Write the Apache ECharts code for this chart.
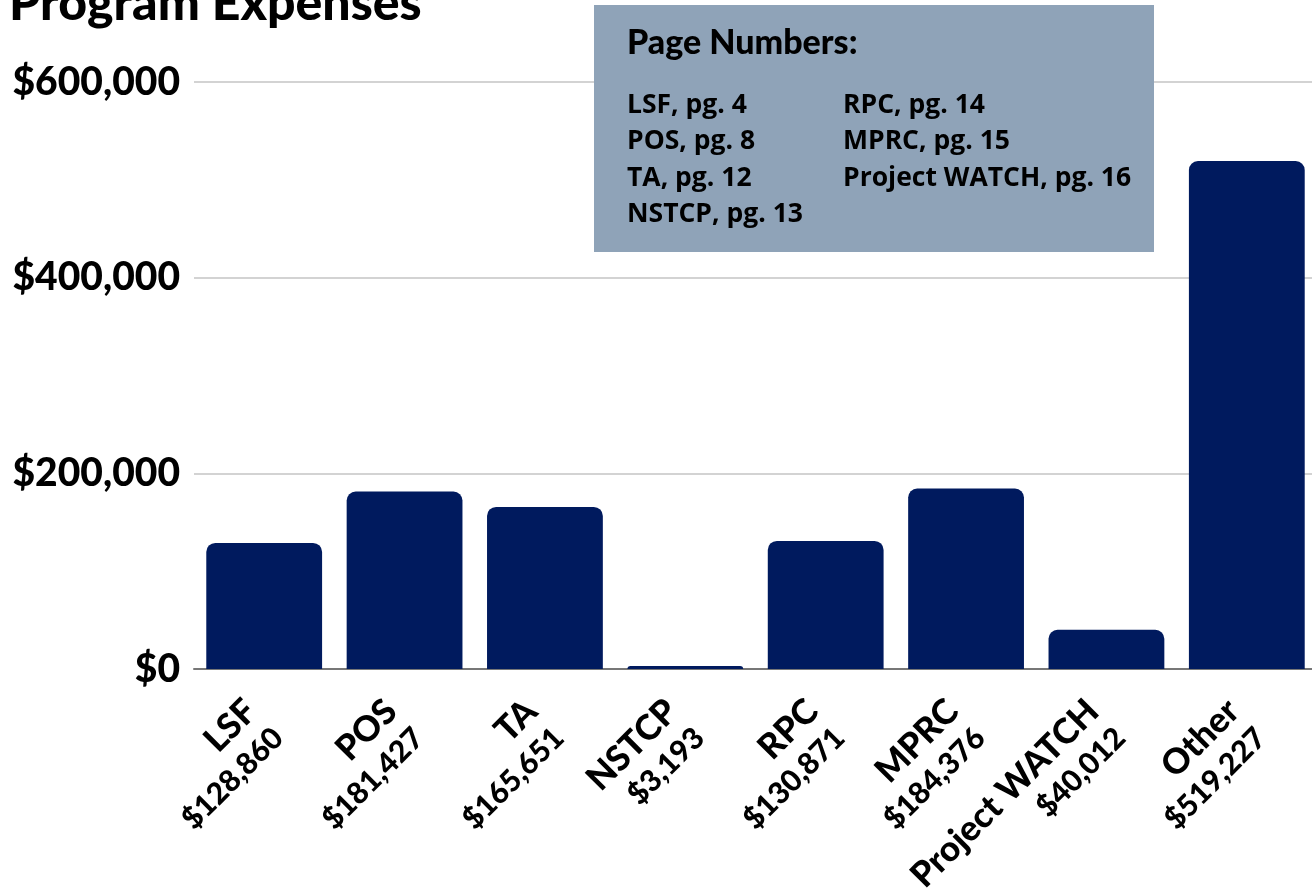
<!DOCTYPE html>
<html>
<head>
<meta charset="utf-8">
<title>Program Expenses</title>
<script src="https://cdn.jsdelivr.net/npm/echarts@6/dist/echarts.min.js"></script>
<style>
  html, body { margin: 0; padding: 0; background: #ffffff; }
  #main { width: 1312px; height: 894px; }
</style>
</head>
<body>
<div id="main"></div>
<script>
// chart data
var programs = ['LSF', 'POS', 'TA', 'NSTCP', 'RPC', 'MPRC', 'Project WATCH', 'Other'];
var expenses = [128860, 181427, 165651, 3193, 130871, 184376, 40012, 519227];
var yTicks = [0, 200000, 400000, 600000];
var pageLeft = ['LSF, pg. 4', 'POS, pg. 8', 'TA, pg. 12', 'NSTCP, pg. 13'];
var pageRight = ['RPC, pg. 14', 'MPRC, pg. 15', 'Project WATCH, pg. 16'];

function money(v) {
    return '$' + v.toLocaleString('en-US');
}

var geoFont = 'Lato';
var boxFont = '"Open Sans"';

// x labels: name over amount
var xLabels = [];
for (var i = 0; i < programs.length; i++) {
    xLabels.push(programs[i] + '\n' + money(expenses[i]));
}

var myChart = echarts.init(document.getElementById('main'));

var option = {
    backgroundColor: '#ffffff',
    animation: false,
    title: {
        text: 'Program Expenses',
        left: 4,
        top: -26,
        textStyle: {
            fontFamily: geoFont,
            fontWeight: 900,
            fontSize: 50,
            color: '#000000'
        }
    },
    grid: {
        left: 194,
        width: 1123,
        top: 82,
        bottom: 225,
        containLabel: false,
        outerBoundsMode: 'none'
    },
    xAxis: {
        type: 'category',
        data: xLabels,
        axisTick: { show: false },
        axisLine: { lineStyle: { color: '#777777', width: 2 } },
        axisLabel: {
            interval: 0,
            rotate: 45,
            margin: 50,
            formatter: function (v) {
                var parts = v.split('\n');
                return '{n|' + parts[0] + '}\n{v|' + parts[1] + '}';
            },
            rich: {
                n: { fontFamily: geoFont, fontWeight: 900, fontSize: 35, color: '#000', lineHeight: 40, align: 'right' },
                v: { fontFamily: geoFont, fontWeight: 900, fontSize: 30, color: '#000', lineHeight: 38, align: 'right' }
            }
        }
    },
    yAxis: {
        type: 'value',
        min: yTicks[0],
        max: yTicks[yTicks.length - 1],
        interval: yTicks[1] - yTicks[0],
        axisLine: { show: false },
        axisTick: { show: false },
        splitLine: { lineStyle: { color: '#c4c4c4', width: 1.5 } },
        axisLabel: {
            margin: 14,
            fontFamily: geoFont,
            fontWeight: 900,
            fontSize: 39,
            color: '#000000',
            formatter: function (v) { return money(v); }
        }
    },
    series: [{
        type: 'bar',
        data: expenses,
        barCategoryGap: '17.5%',
        itemStyle: {
            color: '#001a5e',
            borderRadius: [9, 9, 0, 0]
        }
    }],
    graphic: [
        {
            type: 'rect',
            left: 594,
            top: 5,
            z: 100,
            shape: { width: 560, height: 247 },
            style: { fill: '#8fa3b8' }
        },
        {
            type: 'text',
            left: 627,
            top: 26,
            z: 101,
            style: {
                text: 'Page Numbers:',
                fontFamily: geoFont,
                fontWeight: 900,
                fontSize: 34,
                fill: '#000000'
            }
        },
        {
            type: 'text',
            left: 627,
            top: 87,
            z: 101,
            style: {
                text: pageLeft.join('\n'),
                fontFamily: boxFont,
                fontWeight: 'bold',
                fontSize: 26.5,
                lineHeight: 36.5,
                fill: '#000000'
            }
        },
        {
            type: 'text',
            left: 843,
            top: 87,
            z: 101,
            style: {
                text: pageRight.join('\n'),
                fontFamily: boxFont,
                fontWeight: 'bold',
                fontSize: 26.5,
                lineHeight: 36.5,
                fill: '#000000'
            }
        }
    ]
};

myChart.setOption(option);
</script>
</body>
</html>
